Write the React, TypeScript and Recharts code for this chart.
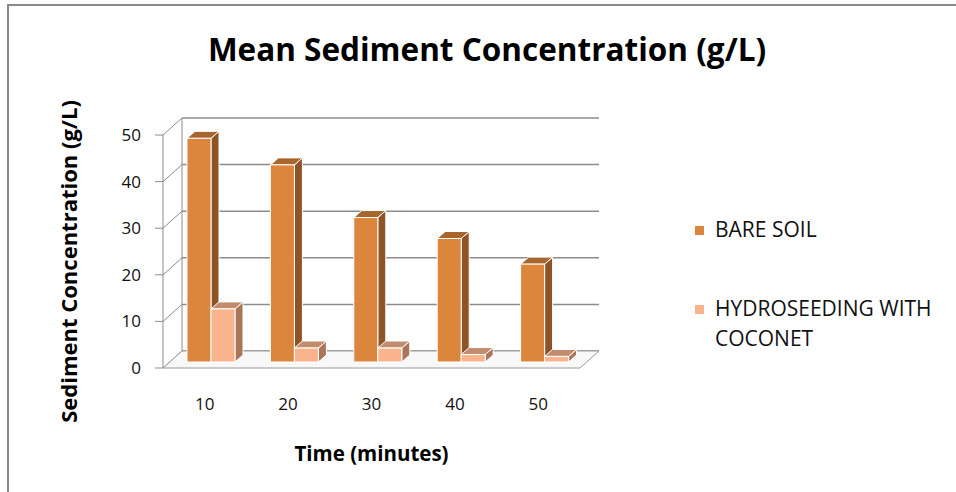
import React from 'react'
import { BarChart, Bar, XAxis, YAxis, CartesianGrid, ReferenceArea, Legend } from 'recharts'

const times = ['10', '20', '30', '40', '50']
const bareSoil = [48, 42.3, 31, 26.5, 21]
const hydroseeding = [11.4, 3, 3, 1.6, 1.2]
const yTicks = [0, 10, 20, 30, 40, 50]

const data = times.map((t, i) => ({ time: t, bare: bareSoil[i], hydro: hydroseeding[i] }))

// depth of the back wall and of each bar
const WALL_DX = 19
const WALL_DY = -17
const BAR_OX = 6
const BAR_OY = -6
const DEPTH_X = 8
const DEPTH_Y = -7
const FONT = "'Open Sans', sans-serif"
const LEGEND_W = 260

const wallLine = (p: any) => {
  const { x1, x2, y1 } = p
  return (
    <g key={p.key ?? `g-${y1}`}>
      <line x1={x1} y1={y1} x2={x1 + WALL_DX} y2={y1 + WALL_DY} stroke="#8c8c8c" strokeWidth={1} />
      <line x1={x1 + WALL_DX} y1={y1 + WALL_DY} x2={x2 + WALL_DX} y2={y1 + WALL_DY} stroke="#8c8c8c" strokeWidth={1.5} />
    </g>
  )
}

const Floor = (p: any) => {
  const { x, y, width, height } = p
  const b = y + height
  return (
    <g>
      <polygon
        points={`${x},${b} ${x + width},${b} ${x + width + WALL_DX},${b + WALL_DY} ${x + WALL_DX},${b + WALL_DY}`}
        fill="#f8f8f8"
        stroke="#9a9a9a"
        strokeWidth={1}
      />
      <line x1={x + WALL_DX} y1={y + WALL_DY} x2={x + WALL_DX} y2={b + WALL_DY} stroke="#8c8c8c" strokeWidth={1} />
    </g>
  )
}

const Box = (p: any) => {
  const { x, y, width, height, fill, side, top } = p
  if (!height || height <= 0) return null
  const fx = x + BAR_OX
  const fy = y + BAR_OY
  return (
    <g>
      <polygon
        points={`${fx + width},${fy} ${fx + width + DEPTH_X},${fy + DEPTH_Y} ${fx + width + DEPTH_X},${fy + height + DEPTH_Y} ${fx + width},${fy + height}`}
        fill={side}
        stroke="#fff"
        strokeWidth={1}
      />
      <polygon
        points={`${fx},${fy} ${fx + DEPTH_X},${fy + DEPTH_Y} ${fx + width + DEPTH_X},${fy + DEPTH_Y} ${fx + width},${fy}`}
        fill={top}
        stroke="#fff"
        strokeWidth={1}
      />
      <rect x={fx} y={fy} width={width} height={height} fill={fill} stroke="#fff" strokeWidth={1} />
    </g>
  )
}

const renderLegend = (props: any) => {
  const { payload } = props
  return (
    <div style={{ fontFamily: FONT, fontSize: 21, color: '#111', width: LEGEND_W }}>
      {payload.map((entry: any, i: number) => (
        <div key={`leg-${i}`} style={{ display: 'flex', alignItems: 'flex-start', marginBottom: i === 0 ? 49 : 0 }}>
          <span style={{ width: 9, height: 9, background: entry.color, marginTop: 12, marginRight: 11, flex: 'none' }} />
          <span style={{ width: 238, lineHeight: '30px' }}>{entry.value}</span>
        </div>
      ))}
    </div>
  )
}

export default function App() {
  return (
    <div style={{ position: 'absolute', left: 0, top: 0, width: 956, height: 492, background: '#fff', fontFamily: FONT }}>
      <div style={{ position: 'absolute', left: 7, top: 4, right: 0, bottom: 0, borderTop: '2px solid #8a8a8a', borderLeft: '2px solid #8a8a8a' }} />
      <div style={{ position: 'absolute', left: 0, width: 974, top: 28, textAlign: 'center', fontWeight: 700, fontSize: 31.5, color: '#000', lineHeight: '42px' }}>
        Mean Sediment Concentration (g/L)
      </div>
      <div style={{ position: 'absolute', left: 0, top: 0 }}>
        <BarChart
          width={956}
          height={492}
          data={data}
          margin={{ top: 135, right: 376 - LEGEND_W, bottom: 64, left: 63 }}
          barGap={0}
          barSize={24}
        >
          <CartesianGrid vertical={false} horizontal={wallLine} />
          <ReferenceArea y1={0} y2={50} shape={Floor} fill="none" />
          <XAxis
            dataKey="time"
            height={60}
            axisLine={false}
            tickLine={false}
            tickSize={0}
            tickMargin={30}
            tick={{ fill: '#111', fontSize: 17, fontFamily: FONT }}
            label={{ value: 'Time (minutes)', position: 'bottom', offset: 18, fill: '#000', fontSize: 20.5, fontWeight: 700, fontFamily: FONT }}
          />
          <YAxis
            width={100}
            domain={[0, 50]}
            ticks={yTicks}
            interval={0}
            axisLine={{ stroke: '#8c8c8c' }}
            tickLine={{ stroke: '#8c8c8c' }}
            tickSize={8}
            tickMargin={14}
            tick={{ fill: '#111', fontSize: 17, fontFamily: FONT }}
            label={{ value: 'Sediment Concentration (g/L)', angle: -90, position: 'insideLeft', offset: 0, dx: 6, dy: 10, fill: '#000', fontSize: 22, fontWeight: 700, fontFamily: FONT, style: { textAnchor: 'middle' } }}
          />
          <Legend
            layout="vertical"
            align="right"
            verticalAlign="top"
            wrapperStyle={{ left: 695, top: 214, width: LEGEND_W }}
            content={renderLegend}
          />
          <Bar
            dataKey="bare"
            name="BARE SOIL"
            fill="#dc853d"
            isAnimationActive={false}
            shape={(p: any) => <Box {...p} side="#8e5327" top="#a9652e" />}
          />
          <Bar
            dataKey="hydro"
            name="HYDROSEEDING WITH COCONET"
            fill="#f9b48e"
            isAnimationActive={false}
            shape={(p: any) => <Box {...p} side="#a97659" top="#c28c6f" />}
          />
        </BarChart>
      </div>
    </div>
  )
}
